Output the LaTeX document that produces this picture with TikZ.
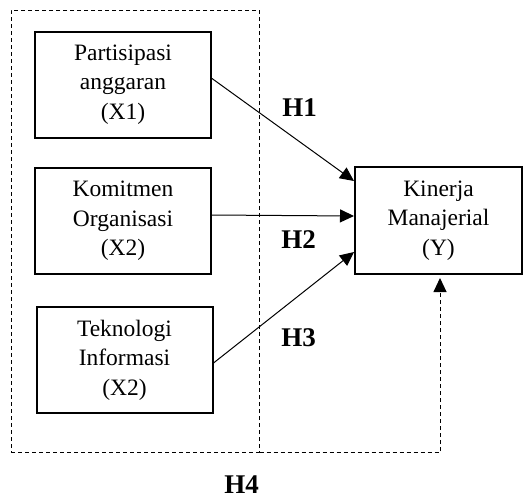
\documentclass[tikz,border=0pt]{standalone}
\usepackage{fontspec}
\setmainfont{Liberation Serif}
\usetikzlibrary{arrows.meta,calc}

\begin{document}
\begin{tikzpicture}[x=1pt, y=-1pt, >={Triangle[length=14pt, width=13pt]},
	var/.style={draw, line width=2pt, minimum width=176pt, minimum height=106pt, inner sep=0pt, align=center, font=\fontsize{23.5}{29.5}\selectfont},
	hyp/.style={font=\fontsize{27}{27}\selectfont\bfseries},
	link/.style={->, line width=1pt}]
	\useasboundingbox (0,0) rectangle (526,499);
	\node[draw, line width=1pt, dash pattern=on 4pt off 3pt, minimum width=248pt, minimum height=442pt, inner sep=0pt] (grp) at (135,231) {};
	\node[var] (X1) at (123,84.5) {Partisipasi\\anggaran\\(X1)};
	\node[var] (X2) at (123,221) {Komitmen\\Organisasi\\(X2)};
	\node[var] (X3) at (124.5,360) {Teknologi\\Informasi\\(X2)};
	\node[var, minimum width=167pt, minimum height=107pt] (Y) at (438.5,220.5) {Kinerja\\Manajerial\\(Y)};
	\draw[link] ($(X1.east)+(0,-6)$) -- ($(Y.north west)+(0,15)$);
	\draw[link] ($(X2.east)+(0,-6)$) -- ($(Y.north west)+(0,50)$);
	\draw[link] ($(X3.east)+(0,3)$) -- ($(Y.north west)+(0,86)$);
	\draw[link, dash pattern=on 4pt off 3pt] (grp.south east) -| ($(Y.south)+(1.5,3)$);
	\node[hyp] (h1) at (299.5,107.5) {H1};
	\node[hyp] (h2) at (298.5,240) {H2};
	\node[hyp] (h3) at (298.5,337.5) {H3};
	\node[hyp] (h4) at (241.5,485) {H4};
\end{tikzpicture}
\end{document}
